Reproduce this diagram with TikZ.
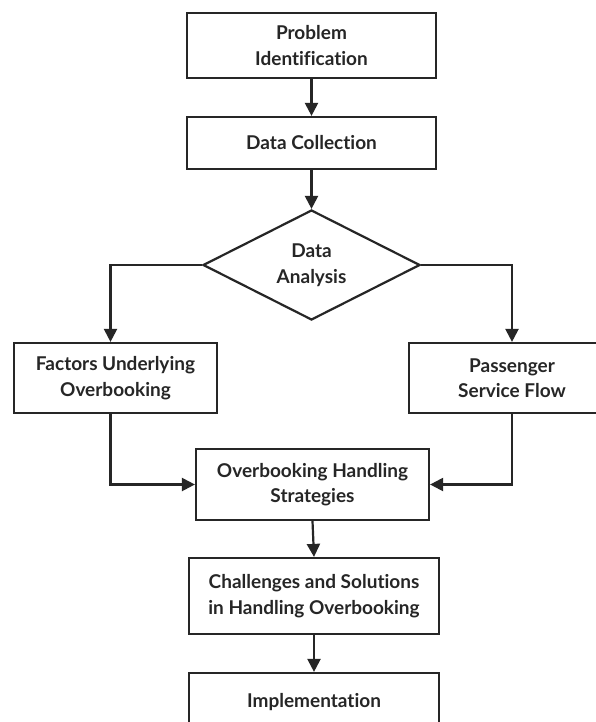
\documentclass[tikz,border=0pt]{standalone}
\usepackage{fontspec}
\setmainfont{Lato}[Ligatures={NoCommon}]
\usetikzlibrary{shapes.geometric,arrows.meta}
\begin{document}
\begin{tikzpicture}[x=1pt,y=-1pt,
  box/.style={draw=black!85,line width=2.2pt,fill=white,align=center,inner sep=0pt,
    font=\fontsize{19}{25.5}\selectfont\bfseries,text=black!85},
  link/.style={draw=black!85,line width=2.2pt,-{Triangle[length=13pt,width=13pt]}}]
\useasboundingbox (0,0) rectangle (596,722);
\clip (0,0) rectangle (596,722);
\fill[white] (0,0) rectangle (596,722);
\node[box,minimum width=249pt,minimum height=65pt] (p1) at (311.5,45.5) {Problem\\Identification};
\node[box,minimum width=249pt,minimum height=52pt] (p2) at (311.5,143) {Data Collection};
\node[box,shape=diamond,aspect=1.97,minimum width=217pt,minimum height=110pt] (dia) at (311.5,265) {Data\\Analysis};
\node[box,minimum width=203pt,minimum height=70pt] (f) at (115.5,378) {Factors Underlying\\Overbooking};
\node[box,minimum width=206pt,minimum height=70pt] (ps) at (512,378) {Passenger\\Service Flow};
\node[box,minimum width=233pt,minimum height=71pt] (ohs) at (312.5,484.5) {Overbooking Handling\\Strategies};
\node[box,minimum width=250pt,minimum height=76pt] (ch) at (314,596) {Challenges and Solutions\\in Handling Overbooking};
\node[box,minimum width=250pt,minimum height=58pt] (im) at (314,702) {Implementation};
\draw[link] (p1.south) -- (p2.north);
\draw[link] (p2.south) -- (dia.north);
\draw[link] (dia.west) -| ([xshift=-5pt]f.north);
\draw[link] (dia.east) -| (ps.north);
\draw[link] ([xshift=-5pt]f.south) |- (ohs.west);
\draw[link] (ps.south) |- (ohs.east);
\draw[link] (ohs.south) -- (ch.north);
\draw[link] (ch.south) -- (im.north);
\end{tikzpicture}
\end{document}
